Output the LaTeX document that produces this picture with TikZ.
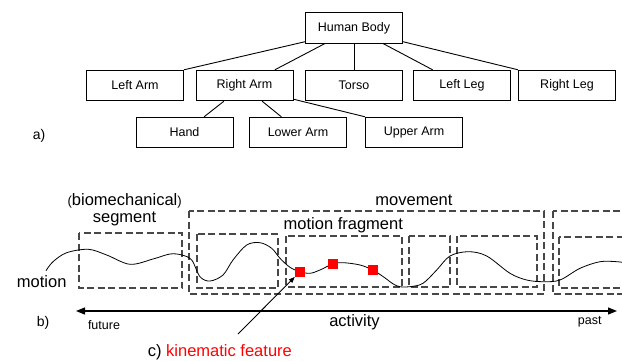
\documentclass[tikz,border=0pt]{standalone}
\usepackage{fontspec}
\setmainfont{Liberation Sans}
\usetikzlibrary{arrows.meta,calc}
\begin{document}
\begin{tikzpicture}[x=1pt,y=-1pt,
  part/.style={draw,line width=0.9pt,minimum width=97pt,minimum height=30.5pt,inner sep=0pt,
    font=\fontsize{12.5}{14}\selectfont},
  link/.style={line width=0.9pt},
  grouping/.style={draw=black!72,line width=1.2pt,dash pattern=on 7pt off 3.5pt},
  biglabel/.style={inner sep=0pt,font=\fontsize{16.5}{18}\selectfont},
  smalllabel/.style={inner sep=0pt,font=\fontsize{12.5}{14}\selectfont},
  partlabel/.style={inner sep=0pt,font=\fontsize{14}{16}\selectfont},
  feature/.style={fill=red,minimum size=10pt,inner sep=0pt},
  timeline/.style={line width=1.2pt,{Triangle[length=9pt,width=7pt]}-{Triangle[length=9pt,width=7pt]}},
  pointer/.style={line width=0.9pt,-{Triangle[length=6pt,width=4.5pt]}},
]
\useasboundingbox (0,0) rectangle (622,360);

% ---- a) body hierarchy ----
\node[part] (hb) at (354,28) {Human Body};
\node[part] (la) at (135,85.5) {Left Arm};
\node[part] (ra) at (244.5,85.5) {Right Arm};
\node[part] (to) at (354,85.5) {Torso};
\node[part] (ll) at (462,85.5) {Left Leg};
\node[part] (rl) at (567,85.5) {Right Leg};
\node[part] (hand) at (184.5,132.5) {Hand};
\node[part] (lower) at (298,132.5) {Lower Arm};
\node[part] (upper) at (414,132.5) {Upper Arm};

\draw[link] ($(hb.south west)+(0,-2)$) -- (la.north east);
\draw[link] ($(hb.south west)!0.2!(hb.south east)$) -- ($(ra.north west)!0.81!(ra.north east)$);
\draw[link] (hb.south) -- (to.north);
\draw[link] ($(hb.south west)!0.8!(hb.south east)$) -- ($(ll.north west)!0.2!(ll.north east)$);
\draw[link] ($(hb.south east)+(0,-2)$) -- (rl.north west);
\draw[link] ($(ra.south west)!0.29!(ra.south east)$) -- ($(hand.north west)!0.7!(hand.north east)$);
\draw[link] ($(ra.south west)!0.68!(ra.south east)$) -- ($(lower.north west)!0.33!(lower.north east)$);
\draw[link] ($(ra.south east)+(0,-2)$) -- (upper.north west);

\node[partlabel,anchor=base] (alab) at (39,139) {a)};

% ---- b) motion decomposition ----
\draw[grouping] (79,233) rectangle (182,288);
\draw[grouping] (189,211) rectangle (544,294);
\draw[grouping] (553,211) rectangle (640,294);
\draw[grouping] (197,234) rectangle (278,288);
\draw[grouping] (286,236) rectangle (402,287);
\draw[grouping] (409,236) rectangle (450,287);
\draw[grouping] (457,236) rectangle (537,287);
\draw[grouping] (559,237) rectangle (640,288);

\draw[line width=0.8pt] plot[smooth,tension=0.55] coordinates {
  (46,270.7) (53,261.7) (66.7,252.7) (88.3,249.3) (106.7,255) (130,264.3)
  (153,259) (170,254) (181.7,255) (191.7,260) (200,276.7) (210,281)
  (223,275) (233,260) (246.7,245) (260,242.7) (271.7,248.3) (280,258.3)
  (290,267.3) (300,271.7) (310,273.3) (320,270) (332.7,264) (343.3,262.7)
  (360,265) (372.7,270) (383.3,276.7) (393.3,284) (400,286.7) (410,286.7)
  (423,283.3) (436.7,270) (450,256) (468.3,251.7) (486.7,256) (510,273.3)
  (526.7,280) (543.3,281.7) (560,280) (580,268.3) (600,261.7) (617,261.7) (626,263)};

\node[feature] (f1) at (300,271.7) {};
\node[feature] (f2) at (333,264) {};
\node[feature] (f3) at (373,270) {};

\node[biglabel,anchor=base] (bio) at (124.7,205) {{\fontsize{13}{15}\selectfont(}biomechanical{\fontsize{13}{15}\selectfont)}};
\node[biglabel,anchor=base] (seg) at (124.5,222.7) {segment};
\node[biglabel,anchor=base] (mot) at (41.7,287.3) {motion};
\node[biglabel,anchor=base] (mov) at (414,205) {movement};
\node[biglabel,anchor=base] (frag) at (343.3,229.5) {motion fragment};

\coordinate (fut) at (76,311);
\coordinate (pst) at (617,311);
\draw[timeline] (fut) -- (pst);
\node[smalllabel,anchor=base] (futl) at (104,329) {future};
\node[smalllabel,anchor=base] (pstl) at (589.7,324) {past};
\node[biglabel,anchor=base] (act) at (354.5,326.5) {activity};
\node[partlabel,anchor=base] (blab) at (43,326.5) {b)};

\node[biglabel,anchor=base west] (kf) at (147.7,356) {c) \textcolor{red}{kinematic feature}};
\coordinate (kftail) at (238,334);
\draw[pointer] (kftail) -- (f1.south west);
\end{tikzpicture}
\end{document}
